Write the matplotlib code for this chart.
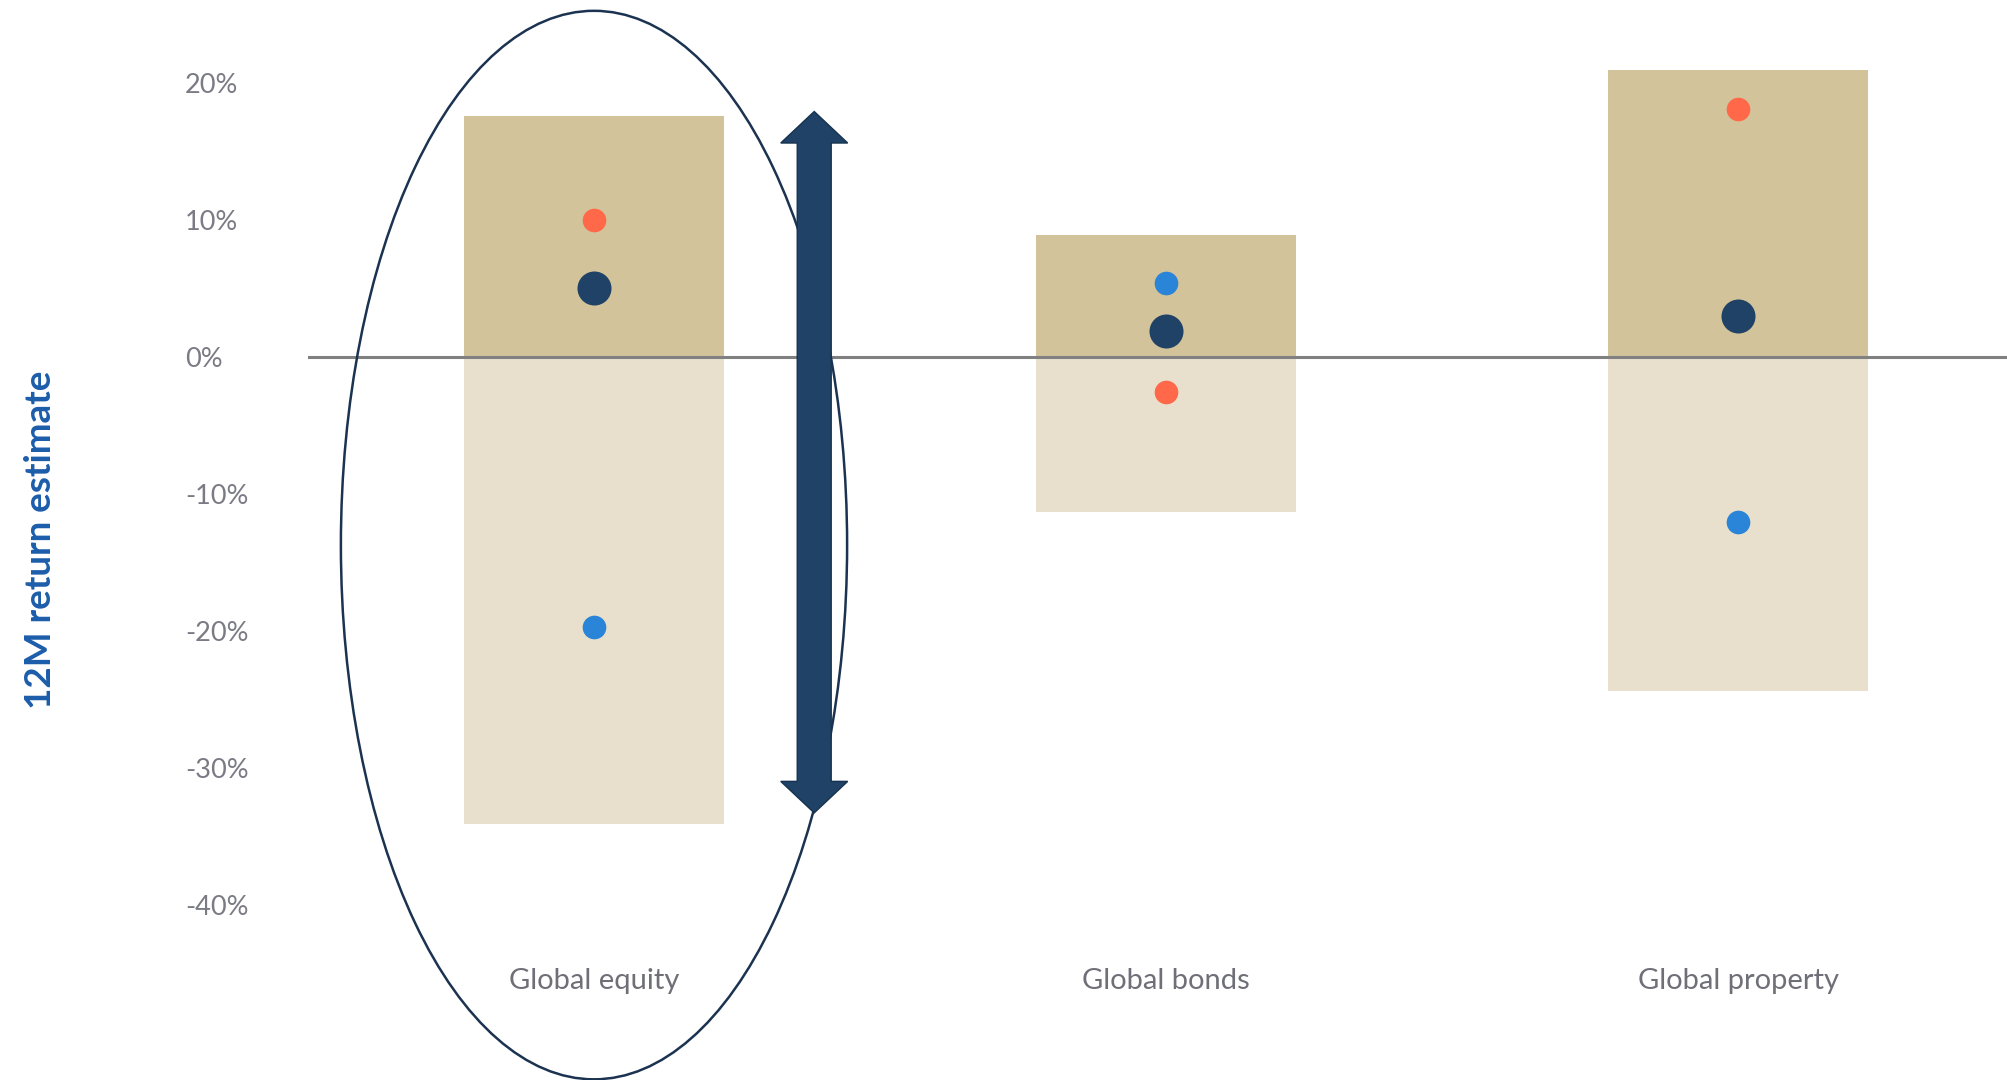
import numpy as np
from matplotlib import pyplot as plt
from matplotlib.patches import Ellipse, Polygon
from matplotlib.transforms import ScaledTranslation

# 12-month return ranges and point estimates (%)
assets = ['Global equity', 'Global bonds', 'Global property']
range_high = [17.6, 8.9, 20.9]
range_low = [-34.1, -11.3, -24.4]
central = [5.0, 1.9, 3.0]
upside = [10.0, -2.6, 18.1]      # orange dots
downside = [-19.7, 5.4, -12.1]   # blue dots
yticks = [20, 10, 0, -10, -20, -30, -40]

dark_tan = '#D2C39A'
light_tan = '#E8E0CC'
navy = '#1F4266'
orange = '#FF694A'
blue = '#2A84D8'
grey_txt = '#7b7b85'

plt.rcParams['font.family'] = ['Lato', 'DejaVu Sans']

fig = plt.figure(figsize=(20.07, 10.8), dpi=100)
ax = fig.add_axes([308 / 2007, 0, 1716 / 2007, 1])

x = np.arange(len(assets))
ax.bar(x, range_high, width=0.455, color=dark_tan, zorder=1)
ax.bar(x, range_low, width=0.455, color=light_tan, zorder=1)
ax.axhline(0, color='#808080', lw=2.2, zorder=2)

ax.scatter(x, central, s=600, color=navy, zorder=4, linewidths=0)
ax.scatter(x, upside, s=290, color=orange, zorder=4, linewidths=0)
ax.scatter(x, downside, s=290, color=blue, zorder=4, linewidths=0)


def double_arrow(ax, xc, y0, y1, shaft_w, head_w, head_len):
    s, h = shaft_w / 2, head_w / 2
    pts = [(xc - s, y0 + head_len), (xc - h, y0 + head_len), (xc, y0),
           (xc + h, y0 + head_len), (xc + s, y0 + head_len),
           (xc + s, y1 - head_len), (xc + h, y1 - head_len), (xc, y1),
           (xc - h, y1 - head_len), (xc - s, y1 - head_len)]
    ax.add_patch(Polygon(pts, closed=True, facecolor=navy, edgecolor='#17324F',
                         lw=1.0, zorder=6, clip_on=False))


# highlight of the equity range
ax.add_patch(Ellipse((0, -13.75), 0.885, 78.0, fill=False, edgecolor='#1B3350',
                     lw=1.8, zorder=5, clip_on=False))
double_arrow(ax, 0.385, -33.3, 17.9, 0.0594, 0.117, 2.3)

ax.set_xlim(-0.5, 2.5)
ax.set_ylim(-52.8, 26.04)
ax.set_yticks(yticks)
ax.set_yticklabels([f'{v}%' for v in yticks], fontsize=19.5, color=grey_txt)
lift = ScaledTranslation(0, 3 / 100, fig.dpi_scale_trans)
for lab in ax.get_yticklabels():
    lab.set_horizontalalignment('left')
    lab.set_transform(lab.get_transform() + lift)
ax.tick_params(axis='y', length=0, pad=88.6)
ax.set_xticks([])
for sp in ax.spines.values():
    sp.set_visible(False)

for xi, name in zip(x, assets):
    ax.text(xi, -45.6, name, ha='center', va='center', fontsize=21,
            color='#6f6f78')

fig.text(41 / 2007, 1 - 540 / 1080, '12M return estimate', rotation=90,
         ha='center', va='center', fontsize=26.5, fontweight='bold',
         color='#1C5DAA')

fig.savefig('out.png', dpi=100)
